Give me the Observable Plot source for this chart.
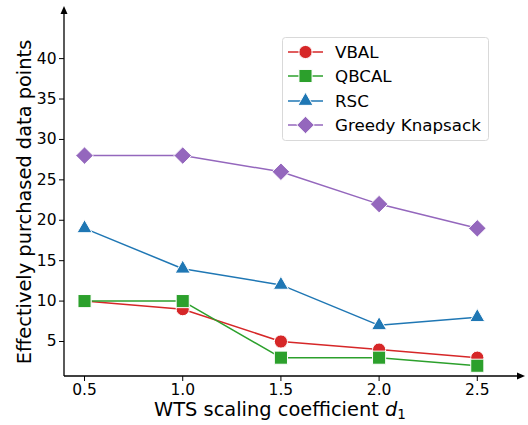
<!DOCTYPE html>
<html><head><meta charset="utf-8">
<script src="https://cdn.jsdelivr.net/npm/d3@7"></script>
<script src="https://cdn.jsdelivr.net/npm/@observablehq/plot@0.6"></script>
<style>body{margin:0;background:#fff;} svg{display:block;}</style>
</head><body><div id="chart"></div>
<script>
const xValues = [0.5, 1.0, 1.5, 2.0, 2.5];
const seriesNames = ["VBAL", "QBCAL", "RSC", "Greedy Knapsack"];
const vbal = [10, 9, 5, 4, 3];
const qbcal = [10, 10, 3, 3, 2];
const rsc = [19, 14, 12, 7, 8];
const greedy = [28, 28, 26, 22, 19];
const xTicks = [0.5, 1.0, 1.5, 2.0, 2.5];
const yTicks = [5, 10, 15, 20, 25, 30, 35, 40];

const colors = ["#d62728", "#2ca02c", "#1f77b4", "#9467bd"];
const symbols = ["circle", "square", "triangle", "diamond2"];
const radii = [6.6, 7.4, 5.6, 7.9];
const allValues = [vbal, qbcal, rsc, greedy];

const data = [];
seriesNames.forEach((s, i) => xValues.forEach((x, j) => data.push({series: s, x, y: allValues[i][j]})));

const marks = [];
seriesNames.forEach((s, i) => {
  const d = data.filter(r => r.series === s);
  marks.push(Plot.line(d, {x: "x", y: "y", stroke: colors[i], strokeWidth: 1.5}));
});
seriesNames.forEach((s, i) => {
  const d = data.filter(r => r.series === s);
  marks.push(Plot.dot(d, {x: "x", y: "y", fill: colors[i], stroke: "white", strokeWidth: 1, symbol: () => symbols[i], r: radii[i]}));
});

const plot = Plot.plot({
  width: 528, height: 425,
  marginLeft: 64, marginRight: 8, marginTop: 8, marginBottom: 49,
  style: {fontFamily: "DejaVu Sans", fontSize: "15.5px", color: "#000", background: "white"},
  x: {domain: [0.398, 2.72]},
  y: {domain: [0.67, 46.2]},
  symbol: {type: "identity"},
  marks: [
    Plot.axisX({ticks: xTicks, tickSize: 5, tickPadding: 2, tickFormat: d3.format(".1f"), label: null}),
    Plot.axisY({ticks: yTicks, tickSize: 5, tickPadding: 3, label: null}),
    ...marks
  ]
});
document.getElementById("chart").appendChild(plot);

const svg = d3.select(plot);
svg.selectAll('g[aria-label$="tick label"]').style("font-size", "15.5px").style("font-family", "DejaVu Sans");
const xs = plot.scale("x"), ys = plot.scale("y");
const x0 = xs.range[0], x1 = xs.range[1], y0 = ys.range[0], y1 = ys.range[1];
const g = svg.append("g");
g.append("line").attr("x1", x0).attr("x2", x0).attr("y1", y0).attr("y2", y1 + 4).attr("stroke", "black").attr("stroke-width", 1.3);
g.append("line").attr("x1", x0).attr("x2", x1 - 2).attr("y1", y0).attr("y2", y0).attr("stroke", "black").attr("stroke-width", 1.3);
g.append("path").attr("d", `M${x0},${y1 - 2} L${x0 - 3.5},${y1 + 6} L${x0 + 3.5},${y1 + 6} Z`).attr("fill", "black");
g.append("path").attr("d", `M${x1 + 5},${y0} L${x1 - 3},${y0 - 3.5} L${x1 - 3},${y0 + 3.5} Z`).attr("fill", "black");

// axis labels
svg.append("text").attr("transform", `translate(25,${(y0 + y1) / 2 + 10}) rotate(-90)`)
  .attr("text-anchor", "middle").attr("dominant-baseline", "middle")
  .style("font-family", "DejaVu Sans").style("font-size", "19.4px").attr("fill", "black")
  .text("Effectively purchased data points");
const xl = svg.append("text").attr("x", 280).attr("y", 416)
  .attr("text-anchor", "middle").style("font-family", "DejaVu Sans").style("font-size", "19.4px").attr("fill", "black");
xl.append("tspan").text("WTS scaling coefficient ");
xl.append("tspan").attr("font-style", "italic").text("d");
xl.append("tspan").style("font-size", "13.5px").attr("dy", 3).text("1");

// legend
const lg = svg.append("g");
lg.append("rect").attr("x", 282.5).attr("y", 37.5).attr("width", 206).attr("height", 103).attr("rx", 3)
  .attr("fill", "white").attr("fill-opacity", 0.8).attr("stroke", "#d9d9d9");
const rowY = [52, 76, 101, 125];
seriesNames.forEach((s, i) => {
  const yy = rowY[i];
  lg.append("line").attr("x1", 288).attr("x2", 323).attr("y1", yy).attr("y2", yy).attr("stroke", colors[i]).attr("stroke-width", 1.5);
  const sym = {circle: d3.symbolCircle, square: d3.symbolSquare, triangle: d3.symbolTriangle, diamond2: d3.symbolDiamond2}[symbols[i]];
  lg.append("path").attr("transform", `translate(305.5,${yy})`).attr("d", d3.symbol(sym, Math.PI * radii[i] * radii[i])())
    .attr("fill", colors[i]).attr("stroke", "white").attr("stroke-width", 1);
  lg.append("text").attr("x", 335).attr("y", yy).attr("dy", "0.35em").attr("text-anchor", "start")
    .style("font-family", "DejaVu Sans").style("font-size", "16.7px").attr("fill", "black").text(s);
});
</script></body></html>
